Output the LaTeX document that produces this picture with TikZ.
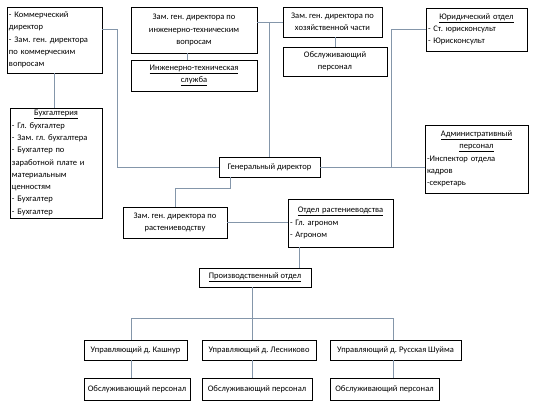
\documentclass[tikz,border=0pt]{standalone}
\usepackage{fontspec}
\setmainfont{Carlito}
\usetikzlibrary{shadows}
\definecolor{conn}{RGB}{132,150,170}
\tikzset{
  box/.style={draw=black, line width=0.7pt, fill=white, inner xsep=2pt, inner ysep=1pt,
    font=\fontsize{8.5}{12.3}\selectfont\frenchspacing,
    drop shadow={shadow xshift=1.2pt, shadow yshift=-1.2pt, fill=black!45, opacity=0.8}},
  cbox/.style={box, align=center},
  lbox/.style={box, align=left},
  link/.style={draw=conn, line width=0.7pt},
}
\begin{document}
\begin{tikzpicture}[x=1pt,y=-1pt]
\useasboundingbox (0,0) rectangle (539,413);
% boxes
\node[lbox, minimum width=95, minimum height=66, text width=91] (A) at (54.5,40)
  {- Коммерческий\\директор\\- Зам. ген. директора\\по коммерческим\\вопросам};
\node[box, minimum width=92, minimum height=110, text width=88] (B) at (56,163)
  {\centering\underline{Бухгалтерия}\par\raggedright
   - Гл. бухгалтер\par - Зам. гл. бухгалтера\par - Бухгалтер по\par заработной плате и\par материальным\par ценностям\par - Бухгалтер\par - Бухгалтер\par};
\node[cbox, minimum width=126, minimum height=46] (C) at (194,30)
  {Зам. ген. директора по\\инженерно-техническим\\вопросам};
\node[cbox, minimum width=126, minimum height=31] (D) at (194,75.5)
  {\underline{Инженерно-техническая}\\\underline{служба}};
\node[cbox, minimum width=99, minimum height=30] (E) at (332.5,22)
  {Зам. ген. директора по\\хозяйственной части};
\node[cbox, minimum width=104, minimum height=29] (F) at (335,61.5)
  {Обслуживающий\\персонал};
\node[box, minimum width=101, minimum height=43, text width=97] (G) at (476.5,29.5)
  {\centering\underline{Юридический отдел}\par\raggedright
   - Ст. юрисконсульт\par - Юрисконсульт\par};
\node[box, minimum width=103, minimum height=68, text width=99] (H) at (476.5,159)
  {\centering\underline{Административный}\par\underline{персонал}\par\raggedright
   -Инспектор отдела\par кадров\par -секретарь\par};
\node[cbox, minimum width=101, minimum height=20] (I) at (269.5,167) {Генеральный директор};
\node[cbox, minimum width=104, minimum height=31] (J) at (175,222.5)
  {Зам. ген. директора по\\растениеводству};
\node[box, minimum width=105, minimum height=48, text width=101] (K) at (340.5,223)
  {\centering\underline{Отдел растениеводства}\par\raggedright
   - Гл. агроном\par - Агроном\par};
\node[cbox, minimum width=112, minimum height=19] (L) at (255,277.5) {\underline{Производственный отдел}};
\node[cbox, minimum width=103, minimum height=20] (M1) at (135.5,350) {Управляющий д. Кашнур};
\node[cbox, minimum width=114, minimum height=20] (M2) at (259,350) {Управляющий д. Лесниково};
\node[cbox, minimum width=131, minimum height=20] (M3) at (395.5,350) {Управляющий д. Русская Шуйма};
\node[cbox, minimum width=106, minimum height=22] (N1) at (137,389) {Обслуживающий персонал};
\node[cbox, minimum width=110, minimum height=22] (N2) at (257,389) {Обслуживающий персонал};
\node[cbox, minimum width=109, minimum height=22] (N3) at (384.5,389) {Обслуживающий персонал};
% helper coordinates
\coordinate (l1) at (117,29);
\coordinate (r1) at (391,29.5);
\coordinate (cd) at (187,0);
\coordinate (k1) at (230,188);
\coordinate (kx) at (299,0);
\coordinate (b0) at (252,318);
\coordinate (b1) at (131,318);
\coordinate (b2) at (252,318);
\coordinate (b3) at (393,318);
% connectors
\draw[link] (A.south) -- (A.south |- B.north);
\draw[link] (C.south -| cd) -- (D.north -| cd);
\draw[link] (E.south -| F.north) -- (F.north);
\draw[link] (E.west -| C.east) -- (E.west);
\draw[link] (I.north) -- (I.north |- E.west);
\draw[link] (I.west) -| (l1) -- (l1 -| A.east);
\draw[link] (G.west) -- (G.west -| r1) -- (r1 |- I.east);
\draw[link] (I.east) -- (I.east -| H.west);
\draw[link] (I.south -| k1) -- (k1) -| (J.north);
\draw[link] (J.east) -- (J.east -| K.west);
\draw[link] (K.south -| kx) -- (L.north -| kx);
\draw[link] (L.south -| b0) -- (b0);
\draw[link] (b1) -- (b3);
\draw[link] (b1) -- (M1.north -| b1);
\draw[link] (b2) -- (M2.north -| b2);
\draw[link] (b3) -- (M3.north -| b3);
\draw[link] (M1.south -| b1) -- (N1.north -| b1);
\draw[link] (M2.south -| b2) -- (N2.north -| b2);
\draw[link] (M3.south -| b3) -- (N3.north -| b3);
\end{tikzpicture}
\end{document}
